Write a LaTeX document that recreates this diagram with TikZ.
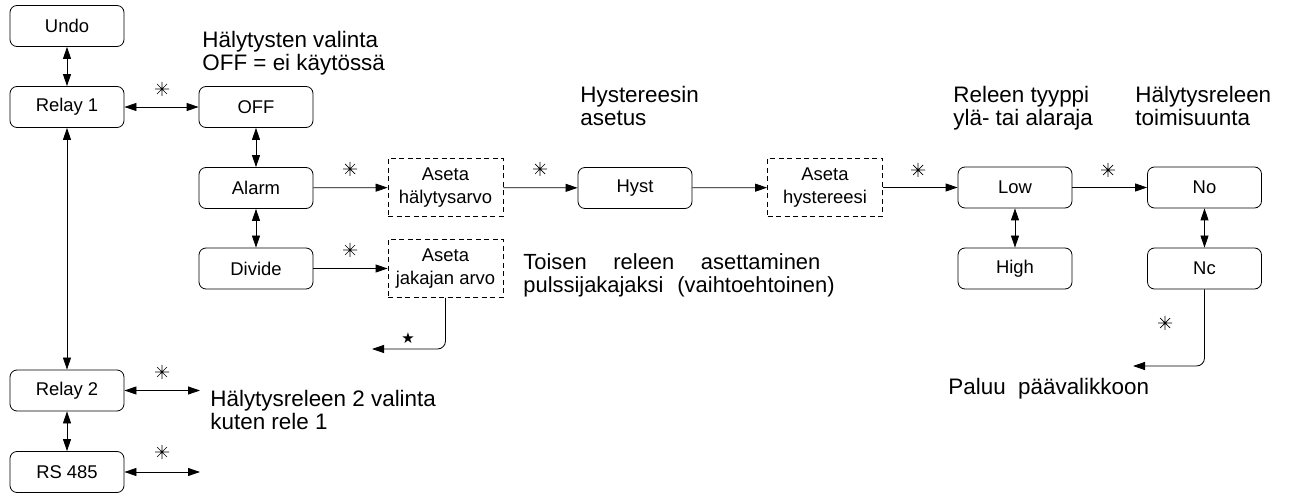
\documentclass[tikz,border=0pt]{standalone}
\usepackage{fontspec}
\setmainfont{Liberation Sans}
\newfontfamily\symbolfont{DejaVu Sans}
\usetikzlibrary{arrows.meta}
\newcommand{\widegap}{\hspace{14bp}}
\begin{document}
\begin{tikzpicture}[x=1bp,y=-1bp,line width=0.8bp,
  >={Triangle[length=12bp,width=8bp]},
  menubox/.style={draw,rounded corners=7bp,minimum width=114bp,minimum height=41bp,
    inner sep=0pt,font=\fontsize{18.5}{20}\selectfont},
  setbox/.style={draw,dash pattern=on 5bp off 3.5bp,minimum width=115bp,minimum height=58bp,
    inner sep=0pt,align=center,font=\fontsize{18.5}{23}\selectfont},
  note/.style={anchor=base west,inner sep=0pt,font=\fontsize{22.5}{24}\selectfont},
  spark/.pic={\draw[line width=0.7bp] (-7,0)--(7,0) (0,-7)--(0,7) (-5,-5)--(5,5) (-5,5)--(5,-5);}
]
\useasboundingbox (0,0) rectangle (1294,493);

% main menu column
\node[menubox] (undo)   at (67,26)  {Undo};
\node[menubox] (relay1) at (67,107) {Relay 1};
\node[menubox] (relay2) at (67,390.5) {Relay 2};
\node[menubox] (rs)     at (67,472) {RS 485};

% relay 1 sub-menu
\node[menubox] (off)    at (256,107) {OFF};
\node[menubox] (alarm)  at (256,188) {Alarm};
\node[menubox] (divide) at (256,268.5) {Divide};
\node[setbox]  (alval)  at (445.5,187.5) {Aseta\\hälytysarvo};
\node[setbox]  (divval) at (445.5,268.5) {Aseta\\jakajan arvo};
\node[menubox] (hyst)   at (635,188) {Hyst};
\node[setbox]  (hysval) at (825,187.5) {Aseta\\hystereesi};
\node[menubox] (low)    at (1015,187.5) {Low};
\node[menubox] (high)   at (1015,268.5) {High};
\node[menubox] (no)     at (1204.5,187.5) {No};
\node[menubox] (nc)     at (1204.5,268.5) {Nc};

% free ends
\coordinate (r2end) at (200,390.5);
\coordinate (rsend) at (200,472);
\coordinate (divret) at (372,349);
\coordinate (ncret) at (1133,366);

% connectors
\draw[<->] (undo) -- (relay1);
\draw[<->] (relay1) -- (off);
\draw[<->] (relay1) -- (relay2);
\draw[<->] (relay2) -- (rs);
\draw[<->] (relay2) -- (r2end);
\draw[<->] (rs) -- (rsend);
\draw[<->] (off) -- (alarm);
\draw[<->] (alarm) -- (divide);
\draw[->] (alarm) -- (alval);
\draw[->] (alval) -- (hyst);
\draw[->] (hyst) -- (hysval);
\draw[->] (hysval) -- (low);
\draw[->] (low) -- (no);
\draw[<->] (low) -- (high);
\draw[<->] (no) -- (nc);
\draw[->] (divide) -- (divval);
\draw[->,rounded corners=8bp] (divval.south) |- (divret);
\draw[->,rounded corners=8bp] (nc.south) |- (ncret);

% key-press marks
\pic at (162,89) {spark};
\pic at (162,372) {spark};
\pic at (162,452) {spark};
\pic at (350,169) {spark};
\pic at (540,169) {spark};
\pic at (350,250) {spark};
\pic at (918,170) {spark};
\pic at (1108,170) {spark};
\pic at (1165,323) {spark};
\node[inner sep=0pt,font=\symbolfont\fontsize{15}{15}\selectfont] (dstar) at (408,338) {★};

% descriptions
\node[note] (t1a) at (202,48)  {Hälytysten valinta};
\node[note] (t1b) at (202,71)  {OFF = ei käytössä};
\node[note] (t2a) at (580,103) {Hystereesin};
\node[note] (t2b) at (580,126) {asetus};
\node[note] (t3a) at (953,103) {Releen tyyppi};
\node[note] (t3b) at (953,126) {ylä- tai alaraja};
\node[note] (t4a) at (1135,103) {Hälytysreleen};
\node[note] (t4b) at (1135,126) {toimisuunta};
\node[note,font=\fontsize{22}{23}\selectfont] (t5a) at (523,270) {\makebox[297bp][s]{Toisen releen asettaminen}};
\node[note,font=\fontsize{22}{23}\selectfont] (t5b) at (523,293) {pulssijakajaksi\widegap (vaihtoehtoinen)};
\node[note] (t6a) at (210,406) {Hälytysreleen 2 valinta};
\node[note] (t6b) at (210,429) {kuten rele 1};
\node[note] (t7)  at (948,394) {Paluu\ \ päävalikkoon};
\end{tikzpicture}
\end{document}
